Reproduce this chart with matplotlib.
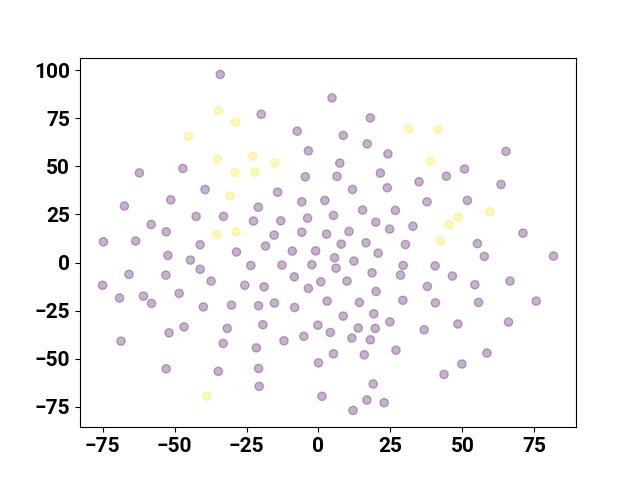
import matplotlib
matplotlib.use("Agg")
import matplotlib.pyplot as plt
import numpy as np

plt.rcParams['font.family'] = ['Roboto', 'DejaVu Sans']
plt.rcParams['font.weight'] = 'bold'
plt.rcParams['font.size'] = 15

# class 0 (purple) coordinates
x0 = [-34.1, -62.2, -47.1, -39.4, -51.3, -67.4, -42.5, -33.0, -22.6, -58.1,
      -52.9, -74.7, -63.5, -41.1, 4.7, -19.9, 18.0, -7.4, 8.6, 16.9,
      -3.5, 24.1, 7.4, -4.6, 6.4, 21.5, 34.9, 11.8, 23.9, -14.2,
      -20.9, -5.8, 2.2, 15.3, 26.7, -13.1, -3.8, 5.2, 19.9, 24.7,
      32.8, -15.4, -5.8, 2.8, 10.6, -18.4, 7.9, 16.5, 30.2, 65.1,
      50.7, 44.4, 63.4, 37.7, 51.7, 71.0, 55.2, -52.3, -28.5, -44.5,
      -23.5, -65.8, -53.0, -41.1, -75.0, -37.3, -25.6, -69.1, -60.8, -58.0,
      -48.4, -40.0, -30.2, -46.7, -51.9, -31.7, -33.1, -68.6, -52.9, -34.8,
      -9.1, -1.0, -12.7, -2.3, 5.6, 6.1, 12.3, 20.7, 29.4, -18.9,
      -8.4, -3.5, 0.8, 9.9, 18.6, 28.5, 20.0, 29.3, -20.8, -15.3,
      -8.3, 3.0, 14.2, -19.3, -0.2, 4.1, 8.6, 13.8, 19.2, 19.7,
      24.8, -5.1, -12.0, 11.6, 18.0, -21.6, 26.9, 5.2, 15.9, 0.0,
      -20.8, -20.6, 19.0, 1.2, 16.8, 22.8, 12.0, 57.6, 81.6, 40.5,
      46.5, 37.8, 54.3, 66.5, 40.6, 55.6, 75.6, 36.7, 48.4, 66.0,
      58.5, 49.8, 43.6]
y0 = [97.8, 46.6, 48.9, 38.0, 32.6, 29.4, 24.0, 24.0, 21.6, 19.8,
      16.0, 10.8, 11.2, 9.3, 85.6, 77.1, 75.2, 68.3, 66.1, 61.7,
      58.1, 56.5, 51.7, 44.6, 44.8, 46.5, 42.0, 38.0, 38.9, 36.6,
      28.8, 31.6, 32.3, 27.3, 27.1, 21.7, 23.1, 24.5, 21.0, 17.4,
      18.9, 14.3, 15.8, 14.8, 16.2, 8.6, 9.6, 10.3, 9.4, 57.8,
      48.6, 44.9, 40.6, 31.6, 32.3, 15.3, 9.9, 3.7, 5.5, 1.3,
      -1.5, -6.1, -6.5, -3.5, -11.8, -9.6, -11.8, -18.4, -17.4, -21.2,
      -16.0, -23.0, -22.1, -33.4, -36.5, -34.2, -42.0, -40.8, -55.2, -56.5,
      6.0, 6.1, -1.3, -1.1, 2.5, -2.9, 0.8, 4.9, -1.5, -12.6,
      -7.4, -13.4, -10.0, -9.6, -5.3, -6.5, -15.0, -19.6, -22.4, -21.0,
      -23.3, -20.0, -20.7, -32.3, -32.5, -36.3, -27.8, -34.0, -26.6, -34.2,
      -30.8, -38.3, -40.6, -39.2, -40.1, -44.3, -45.5, -47.4, -47.9, -52.1,
      -55.0, -64.3, -63.1, -69.5, -71.4, -72.8, -76.8, 3.2, 3.4, -1.7,
      -7.0, -12.4, -11.5, -9.6, -20.9, -20.7, -20.0, -34.9, -31.9, -30.9,
      -47.0, -52.7, -58.1]

# class 1 (yellow) coordinates
x1 = [-34.7, -28.9, -45.1, -35.1, -22.8, -29.0, -22.1, -15.1, -30.7, -35.3,
      -28.6, -38.8, 31.4, 41.5, 39.0, 59.5, 48.5, 45.4, 42.3]
y1 = [78.9, 73.0, 65.7, 53.6, 55.3, 46.9, 46.9, 51.8, 34.7, 14.6,
      16.0, -69.5, 69.5, 69.2, 52.6, 26.4, 23.6, 19.8, 11.2]

xs = np.array(x0 + x1)
ys = np.array(y0 + y1)
labels = np.array([0] * len(x0) + [1] * len(x1))

fig, ax = plt.subplots(figsize=(6.4, 4.8), dpi=100)
ax.scatter(xs, ys, c=labels, cmap='viridis', alpha=0.3)
fig.savefig("out.png", dpi=100)
